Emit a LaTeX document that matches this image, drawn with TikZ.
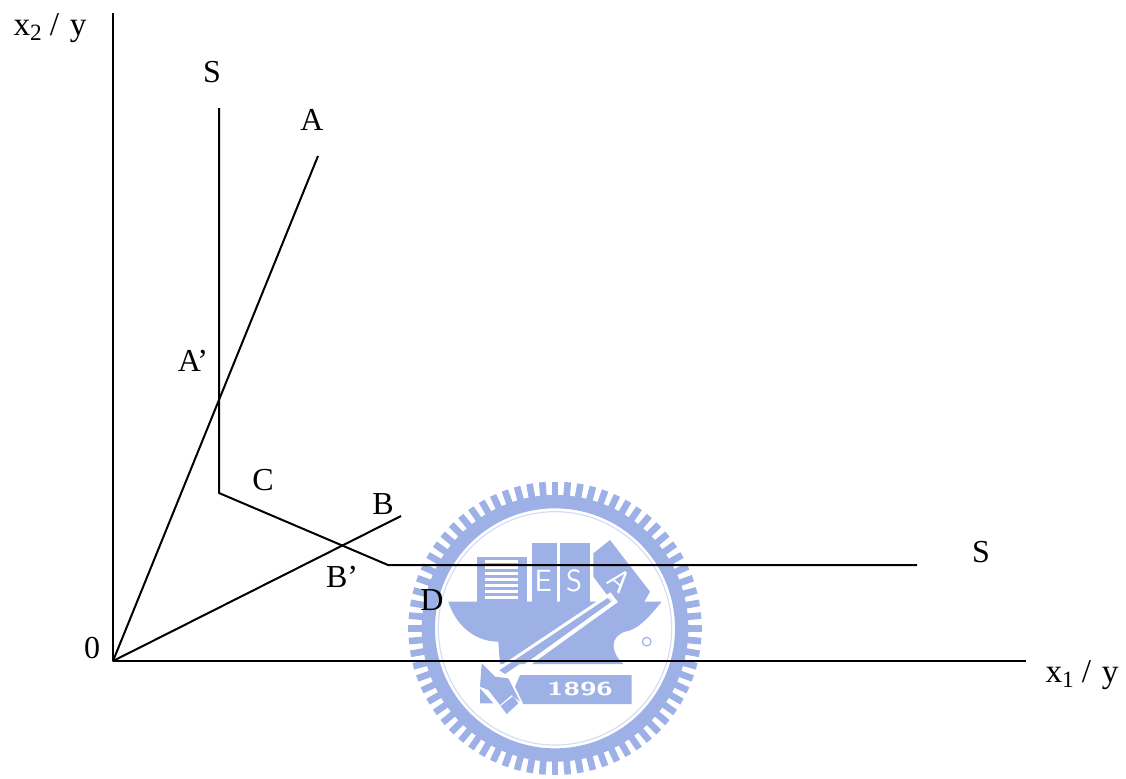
\documentclass[tikz,border=0pt]{standalone}
\usepackage{fontspec}
\setmainfont{Liberation Serif}
\usepackage{xcolor}
\usetikzlibrary{positioning}
\definecolor{seal}{HTML}{9DB1E6}
\definecolor{sealpale}{HTML}{D5DDF3}
\tikzset{
  lbl/.style={inner sep=0pt, font=\fontsize{24}{28}\selectfont},
  axlbl/.style={inner sep=0pt, font=\fontsize{25}{28}\selectfont},
  sealtxt/.style={inner sep=0pt, text=white, font=\sffamily\fontsize{23}{23}\selectfont},
  curve/.style={line width=1.5pt, line join=round, black}
}
\begin{document}
\begin{tikzpicture}[x=0.75pt, y=-0.75pt]
      \useasboundingbox (0,0) rectangle (1126,778);
      % watermark seal
      \begin{scope}[shift={(380,460)}, x=0.25pt, y=-0.25pt]
        \foreach \a in {0,5,...,355} {
          \draw[seal, line width=5pt] (525,505) ++(\a:385) -- ++(\a:55);
        }
        \draw[seal, line width=10pt] (525,505) circle (380);
        \draw[sealpale, line width=0.9pt] (525,505) circle (350);
        % books
        \fill[seal] (290,290) rectangle (440,425);
        \foreach \yb in {300,318,336,354,372,390,408} {
          \fill[white] (315,\yb) rectangle (415,\yb + 10);
        }
        \fill[seal] (455,250) rectangle (530,425);
        \fill[seal] (540,250) rectangle (630,425);
        \fill[seal] (640,280) -- (690,240) -- (810,395) -- (790,430) -- (700,430) -- (640,350) -- cycle;
        \node[sealtxt] (letE) at (490,362) {E};
        \node[sealtxt] (letS) at (582,362) {S};
        \node[sealtxt, rotate=-40] (letA) at (720,362) {A};
        % ship
        \fill[seal] (205,425) -- (845,425)
          .. controls (800,480) and (770,510) .. (735,515)
          .. controls (690,530) and (690,575) .. (730,612)
          -- (360,612) -- (355,545)
          .. controls (280,545) and (225,490) .. (205,425) -- cycle;
        % chain at the stern
        \draw[white, line width=0.9pt] (800,508) circle (11);
        \draw[seal, line width=0.9pt] (800,545) circle (13);
        % pen
        \draw[white, line width=3pt] (345,636) -- (690,405) -- (705,425) -- (385,655) -- cycle;
        \fill[seal] (358,631) -- (683,414) -- (692,424) -- (375,642) -- cycle;
        % hammer
        \fill[seal] (305,610) -- (345,650) -- (385,655) -- (420,725) -- (395,705) -- (360,735) -- (325,690) -- (300,680) -- cycle;
        \fill[seal] (300,685) -- (340,730) -- (300,730) -- cycle;
        \fill[seal] (362,738) -- (400,708) -- (415,730) -- (380,762) -- cycle;
        % banner
        \fill[seal] (420,645) -- (755,645) -- (755,732) -- (430,732) -- (405,680) -- cycle;
        \node[inner sep=0pt, text=white, font=\bfseries\sffamily\fontsize{14}{14}\selectfont, xscale=1.6, transform shape] (year) at (600,688) {1896};
      \end{scope}
      % axes
      \coordinate (o) at (113,661);
      \coordinate (ytop) at (113,13);
      \coordinate (xend) at (1026,661);
      \draw[curve] (ytop) -- (o) -- (xend);
      % isoquant S
      \coordinate (s1) at (219,108);
      \coordinate (c) at (219,493);
      \coordinate (d) at (388,565);
      \coordinate (s2) at (917,565);
      \draw[curve] (s1) -- (c) -- (d) -- (s2);
      % rays
      \coordinate (a) at (318,156);
      \coordinate (b) at (401,516);
      \draw[curve] (o) -- (a);
      \draw[curve] (o) -- (b);
      % labels
      \foreach \tag/\xp/\yp/\txt in {%
        ls/212/72/S,
        la/312/120/A,
        lap/193/361/A’,
        lc/263/480/C,
        lb/383/504/B,
        lbp/342/577/B’,
        ld/432/600/D,
        lt/981/552/S,
        lo/92/648/0
        } {
        \node[lbl] (\tag) at (\xp,\yp) {\txt};
      }
      \node[axlbl] (ly) at (50,28) {x\textsubscript{2}\hspace{5.5pt}/\hspace{8pt}y};
      \node[axlbl] (lx) at (1082,675) {x\textsubscript{1}\hspace{5.5pt}/\hspace{8pt}y};
    \end{tikzpicture}
\end{document}
